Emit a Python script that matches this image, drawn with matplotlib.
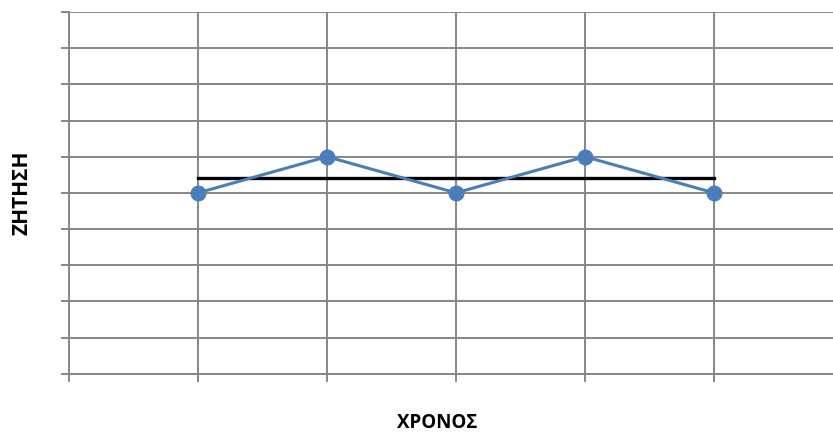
import matplotlib
matplotlib.use("Agg")
import matplotlib.pyplot as plt
import numpy as np

# Demand per period and its mean level
periods = [1, 2, 3, 4, 5]
demand = [5, 6, 5, 6, 5]
mean_level = float(np.mean(demand))

x_label = "ΧΡΟΝΟΣ"
y_label = "ΖΗΤΗΣΗ"

W, H, DPI = 833, 437, 100
fig = plt.figure(figsize=(W / DPI, H / DPI), dpi=DPI)

# plot area: left at 69 px, x=6 falls past the right edge
left_px, right_px = 69, 843
top_px, bottom_px = 12, 373.7
ax = fig.add_axes([left_px / W, 1 - bottom_px / H,
                   (right_px - left_px) / W, (bottom_px - top_px) / H])
ax.set_xlim(0, 6)
ax.set_ylim(0, 10)

grid_color = "#878787"
ax.set_xticks(range(0, 7))
ax.set_yticks(range(0, 11))
ax.grid(True, color=grid_color, linewidth=1.4)
ax.set_axisbelow(True)
ax.tick_params(axis="both", length=6, width=1.4, color=grid_color,
               labelleft=False, labelbottom=False)
for side, sp in ax.spines.items():
    if side in ("left", "bottom"):
        sp.set_color(grid_color)
        sp.set_linewidth(1.4)
    else:
        sp.set_visible(False)

ax.plot(periods, demand, color="#4A7EBB", linewidth=2.2, marker="o",
        markersize=10.5, markerfacecolor="#4A7EBB", markeredgecolor="#4A7EBB",
        zorder=3, clip_on=False)
ax.plot([periods[0], periods[-1]], [mean_level, mean_level],
        color="black", linewidth=2.4, zorder=2)

font = ["Open Sans", "DejaVu Sans"]
fig.text(437 / W, 1 - 423 / H, x_label, ha="center", va="center",
         fontsize=13.5, fontweight="bold", family=font)
fig.text(22 / W, 1 - 193 / H, y_label, ha="center", va="center",
         rotation=90, fontsize=15, fontweight="bold", family=font)

fig.savefig("out.png", dpi=DPI, facecolor="white")
